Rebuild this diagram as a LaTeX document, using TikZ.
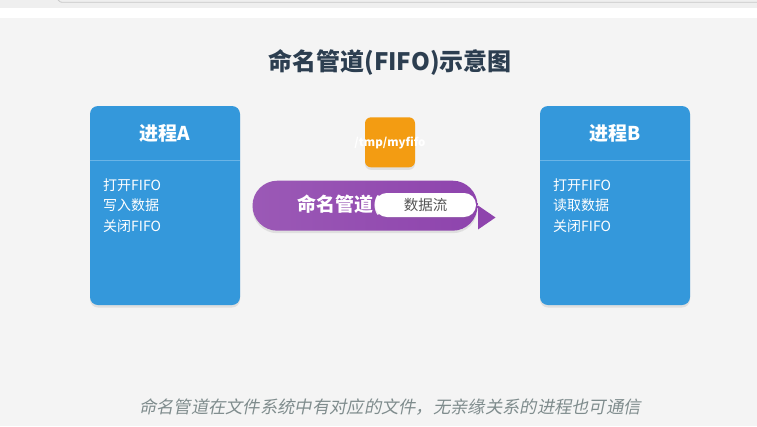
\documentclass[tikz,border=0pt]{standalone}
\usepackage{fontspec}
\setmainfont{Noto Sans CJK SC}
\newfontfamily\cjkit[FakeSlant=0.2]{Noto Sans CJK SC}
\usetikzlibrary{shadows}
\definecolor{bg}{HTML}{F4F4F4}
\definecolor{chrome}{HTML}{EFEFEF}
\definecolor{chromeline}{HTML}{C8C8C8}
\definecolor{titlec}{HTML}{2C3E50}
\definecolor{procblue}{HTML}{3498DB}
\definecolor{sepline}{HTML}{6AB4E6}
\definecolor{fifoorange}{HTML}{F39C12}
\definecolor{purpleL}{HTML}{9B59B6}
\definecolor{purpleR}{HTML}{8E44AD}
\definecolor{flowtext}{HTML}{555555}
\definecolor{captionc}{HTML}{7F8C8D}
\tikzset{
  softshadow/.style={drop shadow={opacity=0.18,shadow xshift=0pt,shadow yshift=-2.5pt}},
  procbox/.style={rectangle,rounded corners=8pt,fill=procblue,minimum width=150pt,minimum height=199pt,inner sep=0pt,softshadow},
  prochead/.style={text=white,font=\fontsize{19}{22}\selectfont\bfseries,inner sep=0pt},
  procline/.style={text=white,font=\fontsize{14}{16}\selectfont,anchor=west,inner sep=0pt},
  fifobox/.style={rectangle,rounded corners=6pt,fill=fifoorange,minimum width=50pt,minimum height=50pt,inner sep=0pt,softshadow},
  pipebody/.style={rectangle,rounded corners=24.9pt,left color=purpleL,right color=purpleR,minimum width=225pt,minimum height=50pt,inner sep=0pt,softshadow},
  flowlabel/.style={rectangle,rounded corners=11.9pt,fill=white,minimum width=101pt,minimum height=24pt,inner sep=0pt,text=flowtext,font=\fontsize{14.5}{16}\selectfont,drop shadow={opacity=0.12,shadow xshift=0pt,shadow yshift=-1.5pt}},
}
\begin{document}
\begin{tikzpicture}[x=1pt,y=-1pt]
\useasboundingbox (0,0) rectangle (757,426);
% background and browser chrome
\fill[bg] (0,0) rectangle (757,426);
\fill[chrome] (0,0) rectangle (757,7.5);
\fill[white] (0,7.5) rectangle (757,17.5);
\draw[chromeline,line width=0.8pt] (58,0) .. controls (60,2.3) .. (66,2.3) -- (757,2.3);
% title
\node[text=titlec,font=\fontsize{24}{28}\selectfont\bfseries,inner sep=0pt] (title) at (390,62) {命名管道(FIFO)示意图};
% process A
\node[procbox] (procA) at (165,205.5) {};
\draw[sepline,line width=0.8pt] (procA.west |- 0,160) coordinate (sepAl) -- (procA.east |- 0,160) coordinate (sepAr);
\node[prochead] (headA) at (165,133) {进程A};
\node[procline] (a1) at (103,185) {打开FIFO};
\node[procline] (a2) at (103,205.5) {写入数据};
\node[procline] (a3) at (103,226) {关闭FIFO};
% process B
\node[procbox] (procB) at (615,205.5) {};
\draw[sepline,line width=0.8pt] (procB.west |- 0,160) coordinate (sepBl) -- (procB.east |- 0,160) coordinate (sepBr);
\node[prochead] (headB) at (615,133) {进程B};
\node[procline] (b1) at (553,185) {打开FIFO};
\node[procline] (b2) at (553,205.5) {读取数据};
\node[procline] (b3) at (553,226) {关闭FIFO};
% fifo file
\node[fifobox] (fifo) at (390,142.3) {};
\node[text=white,font=\fontsize{11.5}{13}\selectfont\bfseries,inner sep=0pt] (fifoname) at (390,142.5) {/tmp/myfifo};
% pipe
\node[pipebody] (pipe) at (365,205.7) {};
\node[text=white,font=\fontsize{19}{22}\selectfont\bfseries,inner sep=0pt] (pipename) at (365,205.5) {命名管道(FIFO)};
\node[flowlabel] (flow) at (425.5,205) {数据流};
\coordinate (tipTop) at (478,205.5);
\coordinate (tipBot) at (478,229.5);
\coordinate (tipEnd) at (495.5,217.5);
\fill[purpleR] (tipTop) -- (tipEnd) -- (tipBot) -- cycle;
% caption
\node[text=captionc,font=\fontsize{17.3}{20}\selectfont\cjkit,inner sep=0pt] (caption) at (390,407) {命名管道在文件系统中有对应的文件，无亲缘关系的进程也可通信};
\end{tikzpicture}
\end{document}
